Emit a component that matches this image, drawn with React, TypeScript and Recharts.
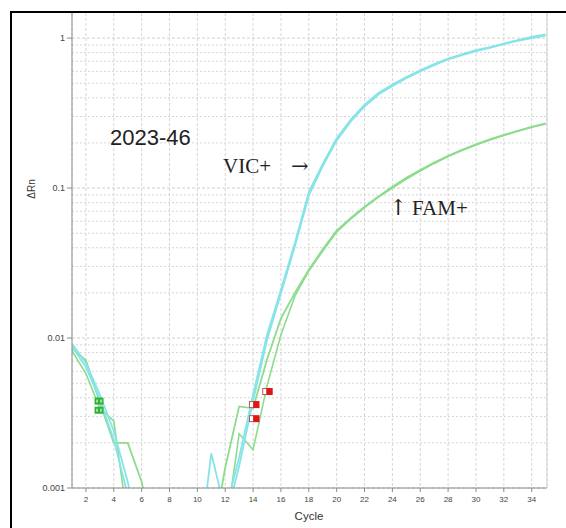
import React from 'react';
import { ComposedChart, Line, Scatter, XAxis, YAxis, CartesianGrid, ReferenceLine } from 'recharts';

const cycles = [1, 2, 3, 4, 5, 6, 7, 8, 9, 10, 11, 12, 13, 14, 15, 16, 17, 18, 19, 20, 21, 22, 23, 24, 25, 26, 27, 28, 29, 30, 31, 32, 33, 34, 35];

// VIC replicates (cyan)
const vicA = [0.0092, 0.0068, 0.0042, 0.0024, 0.0011, 0.0004, null, null, null, 0.0003, 0.0017, 0.0007, 0.0016, 0.0042, 0.0105, 0.021, 0.043, 0.094, 0.145, 0.215, 0.285, 0.36, 0.43, 0.49, 0.55, 0.61, 0.67, 0.73, 0.78, 0.83, 0.87, 0.92, 0.97, 1.02, 1.06];
const vicB = [0.0088, 0.0064, 0.0039, 0.0021, 0.0009, null, null, null, null, null, null, 0.0006, 0.0014, 0.0038, 0.0097, 0.0198, 0.041, 0.089, 0.14, 0.207, 0.277, 0.35, 0.42, 0.48, 0.54, 0.6, 0.66, 0.72, 0.77, 0.82, 0.86, 0.91, 0.96, 1.0, 1.04];

// FAM replicates (green)
const famA = [0.0085, 0.0071, 0.0037, 0.002, 0.002, 0.0011, 0.0004, null, null, null, 0.0004, 0.00137, 0.0035, 0.0034, 0.0072, 0.0135, 0.02, 0.0285, 0.039, 0.052, 0.063, 0.075, 0.088, 0.102, 0.117, 0.132, 0.148, 0.164, 0.18, 0.196, 0.211, 0.226, 0.241, 0.256, 0.27];
const famB = [0.0082, 0.0058, 0.0034, 0.0028, 0.0006, null, null, null, null, null, null, 0.0005, 0.0023, 0.0018, 0.0048, 0.0105, 0.019, 0.028, 0.038, 0.051, 0.062, 0.074, 0.087, 0.1, 0.115, 0.13, 0.146, 0.162, 0.178, 0.194, 0.209, 0.224, 0.239, 0.254, 0.268];

const xTicks = [2, 4, 6, 8, 10, 12, 14, 16, 18, 20, 22, 24, 26, 28, 30, 32, 34];
const yTicks = [0.001, 0.01, 0.1, 1];
const minorY = [0.002, 0.003, 0.004, 0.005, 0.006, 0.007, 0.008, 0.009, 0.02, 0.03, 0.04, 0.05, 0.06, 0.07, 0.08, 0.09, 0.2, 0.3, 0.4, 0.5, 0.6, 0.7, 0.8, 0.9];

const baseCycles = [2.94, 2.94];
const baseValues = [0.0038, 0.0033];
const ctCycles = [14.1, 14.1, 15.05];
const ctValues = [0.0036, 0.0029, 0.0044];

const X_MAX = 35.1;
const Y_MAX = 1.47;

const rows = cycles.map((c, i) => ({ cycle: c, vicA: vicA[i], vicB: vicB[i], famA: famA[i], famB: famB[i] }));
const baseMarks = baseCycles.map((c, i) => ({ cycle: c, mark: baseValues[i] }));
const ctMarks = ctCycles.map((c, i) => ({ cycle: c, mark: ctValues[i] }));

const CYAN = '#86e4e8';
const GREEN = '#8ddc8d';
const GRID = '#d6d6d6';
const SERIF = '"Liberation Serif", "DejaVu Serif", serif';

function CtMark(props: any) {
  const { cx, cy } = props;
  if (cx == null || cy == null) return null;
  return (
    <g>
      <rect x={cx - 5} y={cy - 3} width={4} height={6} fill="#fff" stroke="#b55" strokeWidth={1} />
      <rect x={cx - 1} y={cy - 3.5} width={6} height={7} fill="#e01616" />
    </g>
  );
}

function BaseMark(props: any) {
  const { cx, cy } = props;
  if (cx == null || cy == null) return null;
  return (
    <g>
      <rect x={cx - 4.5} y={cy - 3.5} width={9} height={7} fill="#2fb23a" />
      <rect x={cx - 3} y={cy - 1.5} width={2} height={3} fill="#9ee0a0" />
      <rect x={cx + 1} y={cy - 1.5} width={2} height={3} fill="#9ee0a0" />
    </g>
  );
}

export default function App() {
  return (
    <div style={{ position: 'absolute', left: 0, top: 0, width: 566, height: 528, overflow: 'hidden', background: '#fff', fontFamily: 'Arial, "Liberation Sans", sans-serif' }}>
      <div style={{ position: 'absolute', left: 10, top: 11, width: 600, height: 600, border: '2px solid #000', boxSizing: 'border-box' }} />
      <div style={{ position: 'absolute', left: 0, top: 0 }}>
        <ComposedChart width={566} height={528} data={rows} margin={{ top: 13, right: 19, bottom: 10, left: 22 }}>
          <CartesianGrid horizontal={false} stroke={GRID} strokeDasharray="3 2" />
          {minorY.map((v) => (
            <ReferenceLine key={v} y={v} stroke={GRID} strokeDasharray="2 2" />
          ))}
          {yTicks.map((v) => (
            <ReferenceLine key={'t' + v} y={v} stroke="#cfcfcf" strokeDasharray="3 2" />
          ))}
          <ReferenceLine x={X_MAX} stroke="#d0d0d0" />
          <XAxis
            dataKey="cycle"
            type="number"
            domain={[1, X_MAX]}
            ticks={xTicks}
            allowDataOverflow
            height={30}
            stroke="#8a8a8a"
            tickSize={4}
            tickMargin={4}
            tick={{ fontSize: 8, fill: '#444' }}
          />
          <YAxis
            scale="log"
            type="number"
            domain={[0.001, Y_MAX]}
            ticks={yTicks}
            allowDataOverflow
            width={50}
            stroke="#8a8a8a"
            tickSize={5}
            tickMargin={2}
            tick={{ fontSize: 9, fill: '#444' }}
          />
          <Line dataKey="famB" stroke={GREEN} strokeWidth={1.6} dot={false} isAnimationActive={false} />
          <Line dataKey="famA" stroke={GREEN} strokeWidth={1.8} dot={false} isAnimationActive={false} />
          <Line dataKey="vicB" stroke={CYAN} strokeWidth={1.8} dot={false} isAnimationActive={false} />
          <Line dataKey="vicA" stroke={CYAN} strokeWidth={1.8} dot={false} isAnimationActive={false} />
          <Scatter data={baseMarks} dataKey="mark" shape={(p: any) => <BaseMark {...p} />} isAnimationActive={false} />
          <Scatter data={ctMarks} dataKey="mark" shape={(p: any) => <CtMark {...p} />} isAnimationActive={false} />
        </ComposedChart>
      </div>
      <div style={{ position: 'absolute', left: 32, top: 189, transform: 'translate(-50%, -50%) rotate(-90deg)', fontSize: 10, color: '#333', lineHeight: 1, whiteSpace: 'nowrap' }}>ΔRn</div>
      <div style={{ position: 'absolute', left: 309, top: 511, transform: 'translateX(-50%)', fontSize: 11.5, color: '#333', lineHeight: 1 }}>Cycle</div>
      <div style={{ position: 'absolute', left: 110, top: 127, fontSize: 22, color: '#222', lineHeight: 1, whiteSpace: 'nowrap' }}>2023-46</div>
      <div style={{ position: 'absolute', left: 223, top: 156, fontSize: 21, color: '#222', lineHeight: 1, whiteSpace: 'nowrap', fontFamily: SERIF }}>VIC+</div>
      <div style={{ position: 'absolute', left: 291, top: 156, fontSize: 21, color: '#222', lineHeight: 1, whiteSpace: 'nowrap', fontFamily: '"DejaVu Serif", serif' }}>→</div>
      <div style={{ position: 'absolute', left: 389, top: 197, fontSize: 22, color: '#222', lineHeight: 1, whiteSpace: 'nowrap', fontFamily: '"DejaVu Serif", serif' }}>↑</div>
      <div style={{ position: 'absolute', left: 412, top: 198, fontSize: 21, color: '#222', lineHeight: 1, whiteSpace: 'nowrap', fontFamily: SERIF }}>FAM+</div>
    </div>
  );
}
